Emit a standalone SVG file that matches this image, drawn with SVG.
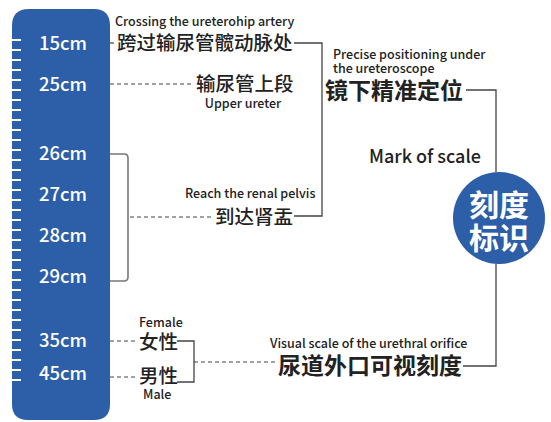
<svg xmlns="http://www.w3.org/2000/svg" width="551" height="422" viewBox="0 0 551 422">
<defs>
<style>
.t{font-family:"Noto Sans CJK SC","Noto Sans",sans-serif;fill:#222}
.en{font-size:12.5px;font-weight:500}
.cn{font-size:19.5px;font-weight:500}
.cnb{font-size:23px;font-weight:700}
.rl{font-family:"Noto Sans CJK SC","Noto Sans",sans-serif;font-size:18.5px;font-weight:500;fill:#fff;text-anchor:middle}
.ct{font-family:"Noto Sans CJK SC",sans-serif;font-size:30px;font-weight:700;fill:#fff;text-anchor:middle}
.ln{stroke:#444;stroke-width:1.3;fill:none}
.ds{stroke:#444;stroke-width:1.2;fill:none;stroke-dasharray:4 3}
.br{stroke:#777;stroke-width:1.6;fill:none}
.tk{stroke:#fff;stroke-width:2}
</style>
</defs>
<rect width="551" height="422" fill="#fff"/>
<g id="ruler">
<path d="M12,26 Q12,9 29,9 H94 Q110,9 110,26 V404 Q110,420 94,420 H28 Q12,420 12,404 Z" fill="#2d5ea8"/>
<g class="tk">
<line x1="12" y1="40" x2="21" y2="40"/><line x1="12" y1="50" x2="21" y2="50"/><line x1="12" y1="60" x2="21" y2="60"/><line x1="12" y1="70" x2="21" y2="70"/><line x1="12" y1="80" x2="21" y2="80"/><line x1="12" y1="90" x2="21" y2="90"/><line x1="12" y1="100" x2="21" y2="100"/><line x1="12" y1="110" x2="21" y2="110"/><line x1="12" y1="120" x2="21" y2="120"/><line x1="12" y1="130" x2="21" y2="130"/><line x1="12" y1="140" x2="21" y2="140"/><line x1="12" y1="150" x2="21" y2="150"/><line x1="12" y1="160" x2="21" y2="160"/><line x1="12" y1="170" x2="21" y2="170"/><line x1="12" y1="180" x2="21" y2="180"/><line x1="12" y1="190" x2="21" y2="190"/><line x1="12" y1="200" x2="21" y2="200"/><line x1="12" y1="210" x2="21" y2="210"/><line x1="12" y1="220" x2="21" y2="220"/><line x1="12" y1="230" x2="21" y2="230"/><line x1="12" y1="240" x2="21" y2="240"/><line x1="12" y1="250" x2="21" y2="250"/><line x1="12" y1="260" x2="21" y2="260"/><line x1="12" y1="270" x2="21" y2="270"/><line x1="12" y1="280" x2="21" y2="280"/><line x1="12" y1="290" x2="21" y2="290"/><line x1="12" y1="300" x2="21" y2="300"/><line x1="12" y1="310" x2="21" y2="310"/><line x1="12" y1="320" x2="21" y2="320"/><line x1="12" y1="330" x2="21" y2="330"/><line x1="12" y1="340" x2="21" y2="340"/><line x1="12" y1="350" x2="21" y2="350"/><line x1="12" y1="360" x2="21" y2="360"/><line x1="12" y1="370" x2="21" y2="370"/><line x1="12" y1="380" x2="21" y2="380"/>
</g>
<text class="rl" x="63" y="50">15cm</text>
<text class="rl" x="63" y="91">25cm</text>
<text class="rl" x="63" y="160">26cm</text>
<text class="rl" x="63" y="201">27cm</text>
<text class="rl" x="63" y="242">28cm</text>
<text class="rl" x="63" y="283">29cm</text>
<text class="rl" x="63" y="347">35cm</text>
<text class="rl" x="63" y="380">45cm</text>
</g>
<g id="connectors">
<line class="ds" x1="110" y1="43" x2="116" y2="43"/>
<path class="ln" d="M294,43 H322 V216 H294"/>
<line class="ds" x1="110" y1="84" x2="194" y2="84"/>
<path class="br" d="M110,154 H124 Q128,154 128,158 V277 Q128,281 124,281 H110"/>
<line class="ds" x1="130" y1="217" x2="213" y2="217"/>
<path class="ln" d="M466,90 H496 V172"/>
<path class="ln" d="M496,264 V366 H463"/>
<line class="ds" x1="110" y1="341" x2="137" y2="341"/>
<line class="ds" x1="110" y1="377" x2="137" y2="377"/>
<path class="ln" d="M177,341 H194 V382 H177"/>
<line class="ds" x1="194" y1="362" x2="277" y2="362"/>
</g>
<g id="n-artery">
<text class="t en" x="115" y="26">Crossing the ureterohip artery</text>
<text class="t cn" x="117" y="50">跨过输尿管髋动脉处</text>
</g>
<g id="n-upper">
<text class="t cn" x="196" y="91">输尿管上段</text>
<text class="t en" x="243" y="108" text-anchor="middle">Upper ureter</text>
</g>
<g id="n-pelvis">
<text class="t en" x="185" y="198">Reach the renal pelvis</text>
<text class="t cn" x="215" y="224">到达肾盂</text>
</g>
<g id="n-precise">
<text class="t en" x="333" y="59">Precise positioning under</text>
<text class="t en" x="333" y="73">the ureteroscope</text>
<text class="t cnb" x="325" y="99">镜下精准定位</text>
</g>
<g id="n-mark">
<text class="t" x="369" y="163" style="font-size:18px;font-weight:500">Mark of scale</text>
</g>
<g id="n-circle">
<circle cx="499" cy="218" r="46" fill="#2d5ea8"/>
<text class="ct" x="499" y="216">刻度</text>
<text class="ct" x="499" y="249">标识</text>
</g>
<g id="n-female">
<text class="t en" x="139" y="327">Female</text>
<text class="t cn" x="139" y="349">女性</text>
</g>
<g id="n-male">
<text class="t cn" x="139" y="383">男性</text>
<text class="t en" x="143" y="399">Male</text>
</g>
<g id="n-urethral">
<text class="t en" x="270" y="348">Visual scale of the urethral orifice</text>
<text class="t cnb" x="278" y="374">尿道外口可视刻度</text>
</g>
</svg>
